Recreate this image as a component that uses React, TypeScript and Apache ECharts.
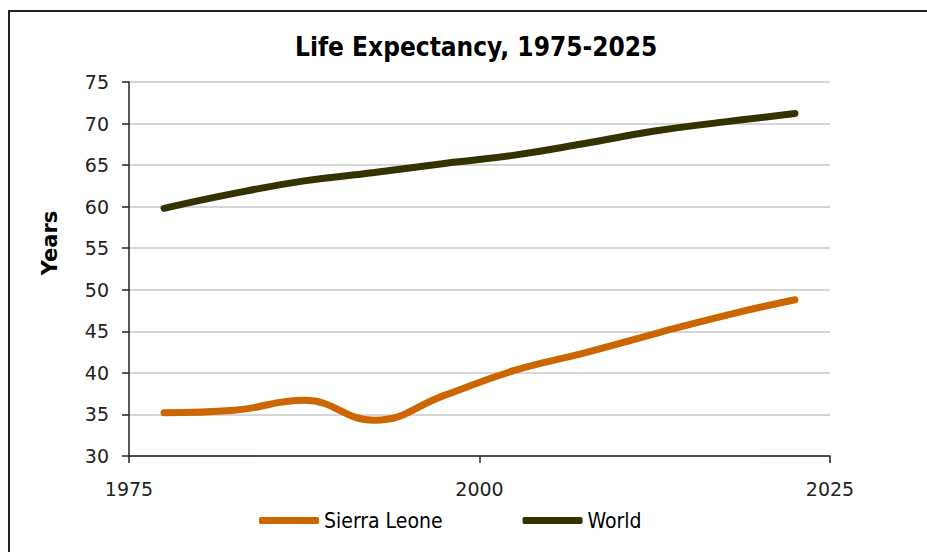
import React, { useEffect, useRef } from "react";
import * as echarts from "echarts";

const years = [1977.5, 1982.5, 1987.5, 1992.5, 1997.5, 2002.5, 2007.5, 2012.5, 2017.5, 2022.5];
const sierraLeone = [35.2, 35.5, 36.7, 34.3, 37.3, 40.3, 42.4, 44.7, 46.9, 48.8];
const world = [59.8, 61.6, 63.1, 64.1, 65.2, 66.2, 67.6, 69.1, 70.2, 71.2];
const seriesNames = ["Sierra Leone", "World"];
const titleText = "Life Expectancy, 1975-2025";
const yAxisTitle = "Years";

const narrow = '"Liberation Sans Narrow", "DejaVu Sans Condensed", sans-serif';
const tickFont = '"DejaVu Sans", Verdana, sans-serif';

export default function App() {
  const ref = useRef<HTMLDivElement>(null);
  useEffect(() => {
    if (!ref.current) return;
    const chart = echarts.init(ref.current, null, { renderer: "svg" });
    const pair = (vals: number[]) => years.map((y, i) => [y, vals[i]]);
    chart.setOption({
      animation: false,
      backgroundColor: "#ffffff",
      title: {
        text: titleText,
        left: 290,
        top: 29,
        textStyle: { fontFamily: narrow, fontWeight: "bold", fontSize: 26, color: "#000" },
      },
      graphic: [
        {
          type: "rect",
          shape: { x: 9, y: 11, width: 960, height: 600 },
          style: { fill: "none", stroke: "#222", lineWidth: 2 },
          silent: true,
        },
        {
          type: "text",
          x: 50,
          y: 243,
          rotation: Math.PI / 2,
          style: {
            text: yAxisTitle,
            fontFamily: tickFont,
            fontWeight: "bold",
            fontSize: 21,
            fill: "#000",
            align: "center",
            verticalAlign: "middle",
          },
          silent: true,
        },
      ],
      legend: {
        left: 254,
        top: 505,
        itemWidth: 60,
        itemHeight: 7,
        itemGap: 80,
        icon: "roundRect",
        textStyle: { fontFamily: narrow, fontSize: 21, color: "#000" },
        data: seriesNames,
      },
      grid: { left: 129, right: 97, top: 82, bottom: 96 },
      xAxis: {
        type: "value",
        min: 1975,
        max: 2025,
        interval: 25,
        axisLine: { lineStyle: { color: "#222", width: 1.5 } },
        axisTick: { show: true, length: 7, lineStyle: { color: "#222", width: 1.5 } },
        axisLabel: {
          fontFamily: tickFont,
          fontSize: 19,
          color: "#222",
          margin: 23,
          formatter: (v: number) => String(v),
        },
        splitLine: { show: false },
      },
      yAxis: {
        type: "value",
        min: 30,
        max: 75,
        interval: 5,
        axisLine: { show: true, lineStyle: { color: "#222", width: 1.5 } },
        axisTick: { show: true, length: 7, lineStyle: { color: "#222", width: 1.5 } },
        axisLabel: { fontFamily: tickFont, fontSize: 19, color: "#222", margin: 20 },
        splitLine: { lineStyle: { color: "#c8c8c8", width: 1.5 } },
      },
      series: [
        {
          name: seriesNames[0],
          type: "line",
          data: pair(sierraLeone),
          smooth: 0.45,
          showSymbol: false,
          symbol: "none",
          color: "#cc6600",
          lineStyle: { color: "#cc6600", width: 7, cap: "round" },
        },
        {
          name: seriesNames[1],
          type: "line",
          data: pair(world),
          smooth: 0.45,
          showSymbol: false,
          symbol: "none",
          color: "#333300",
          lineStyle: { color: "#333300", width: 7, cap: "round" },
        },
      ],
    });
    return () => chart.dispose();
  }, []);
  return (
    <div
      ref={ref}
      style={{ position: "fixed", left: 0, top: 0, width: 927, height: 552 }}
    />
  );
}
